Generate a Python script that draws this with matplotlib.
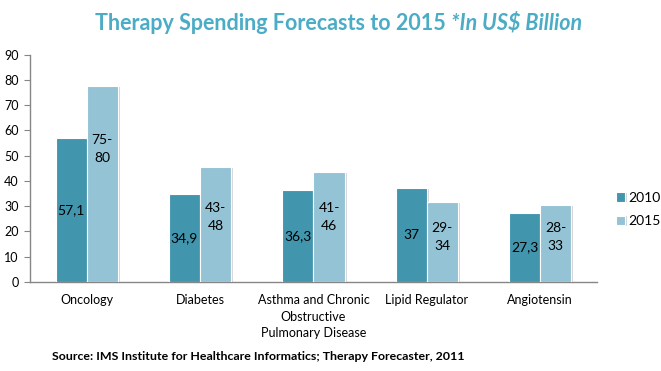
import matplotlib
matplotlib.use("Agg")
import matplotlib.pyplot as plt
import matplotlib.patheffects as pe
import numpy as np

categories = ["Oncology", "Diabetes", "Asthma and Chronic\nObstructive\nPulmonary Disease",
              "Lipid Regulator", "Angiotensin"]
values_2010 = [57.1, 34.9, 36.3, 37.0, 27.3]
values_2015 = [77.5, 45.5, 43.5, 31.5, 30.5]
labels_2010 = ["57,1", "34,9", "36,3", "37", "27,3"]
labels_2015 = ["75-\n80", "43-\n48", "41-\n46", "29-\n34", "28-\n33"]
series_names = ["2010", "2015"]
yticks = [0, 10, 20, 30, 40, 50, 60, 70, 80, 90]

plt.rcParams['font.family'] = ['Lato', 'DejaVu Sans']

c2010 = "#4196AE"
c2015 = "#93C3D5"
title_c = "#4BACC6"

fig = plt.figure(figsize=(6.61, 3.71), dpi=100)
ax = fig.add_axes([0.0454, 0.2399, 0.8576, 0.6131])

x = np.arange(len(categories))
w = 0.275
shadow = [pe.SimplePatchShadow(offset=(1.5, -0.5), shadow_rgbFace="#bbbbbb", alpha=0.6), pe.Normal()]
b1 = ax.bar(x - w / 2, values_2010, w, color=c2010, edgecolor="white", linewidth=0.8,
            label=series_names[0], path_effects=shadow, zorder=3)
b2 = ax.bar(x + w / 2, values_2015, w, color=c2015, edgecolor="white", linewidth=0.8,
            label=series_names[1], path_effects=shadow, zorder=3)

lab_offsets_2015 = [14, 3, 4, 2, 2.5]
for i in range(len(categories)):
    ax.text(x[i] - w / 2, values_2010[i] / 2, labels_2010[i], ha="center", va="center",
            fontsize=10, color="black", zorder=4)
    ax.text(x[i] + w / 2, values_2015[i] / 2 + lab_offsets_2015[i], labels_2015[i],
            ha="center", va="center", fontsize=10, color="black", linespacing=1.6, zorder=4)

ax.set_xlim(-0.5, len(categories) - 0.5)
ax.set_ylim(0, 90)
ax.set_yticks(yticks)
ax.set_yticklabels([str(t) for t in yticks], fontsize=9)
ax.set_xticks(x)
ax.set_xticklabels(categories, fontsize=9, linespacing=1.45, va="top")
ax.tick_params(axis="x", length=0, pad=9)
ax.tick_params(axis="y", length=4, width=0.8, color="#868686", pad=4)
for s in ["top", "right"]:
    ax.spines[s].set_visible(False)
for s in ["left", "bottom"]:
    ax.spines[s].set_color("#868686")
    ax.spines[s].set_linewidth(1.0)

leg = fig.legend(handles=[b1, b2], labels=series_names, loc="upper left",
                 bbox_to_anchor=(616 / 661, 1 - 192 / 371), frameon=False, fontsize=10,
                 borderpad=0, borderaxespad=0, handlelength=0.65, handleheight=0.65,
                 handletextpad=0.25, labelspacing=0.8)

t1 = fig.text(0.144, 0.938, "Therapy Spending Forecasts to 2015 ", fontsize=15.5,
              fontweight="bold", color=title_c, ha="left", va="center")
ax.annotate("*In US$ Billion", xy=(1, 0), xycoords=t1, va="bottom", ha="left",
            fontsize=15.5, fontweight="bold", fontstyle="italic", color=title_c)

fig.text(0.39, 0.038, "Source: IMS Institute for Healthcare Informatics; Therapy Forecaster, 2011",
         fontsize=8.9, fontweight="bold", ha="center", va="center")

fig.savefig("out.png", dpi=100)
